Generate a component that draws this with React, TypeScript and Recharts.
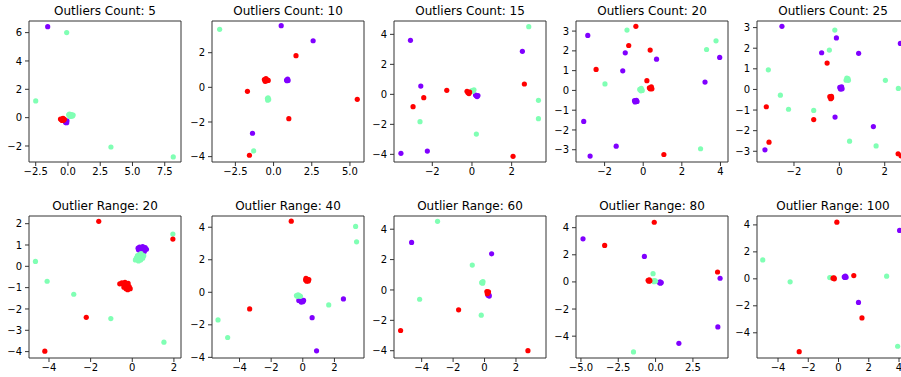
import React from 'react';
import { ScatterChart, Scatter, XAxis, YAxis, ReferenceArea } from 'recharts';

// [x, y, cluster]  cluster: 0 = purple, 1 = green, 2 = red
type Pt = [number, number, number];

const titles = [
  'Outliers Count: 5', 'Outliers Count: 10', 'Outliers Count: 15', 'Outliers Count: 20', 'Outliers Count: 25',
  'Outlier Range: 20', 'Outlier Range: 40', 'Outlier Range: 60', 'Outlier Range: 80', 'Outlier Range: 100',
];

const xDomains = [
  [-3.02, 8.76], [-4.03, 5.92], [-3.93, 3.73], [-3.48, 4.39], [-3.63, 3.07],
  [-4.96, 2.34], [-5.74, 3.87], [-5.76, 3.91], [-5.33, 4.85], [-5.39, 4.66],
];
const yDomains = [
  [-3.13, 6.82], [-4.31, 3.83], [-4.51, 4.89], [-3.62, 3.51], [-3.52, 3.32],
  [-4.3, 2.36], [-4.04, 4.69], [-4.48, 4.87], [-5.61, 4.86], [-5.87, 4.66],
];
const xTicks = [
  [-2.5, 0, 2.5, 5, 7.5], [-2.5, 0, 2.5, 5], [-2, 0, 2], [-2, 0, 2, 4], [-2, 0, 2],
  [-4, -2, 0, 2], [-4, -2, 0, 2], [-4, -2, 0, 2], [-5, -2.5, 0, 2.5], [-4, -2, 0, 2, 4],
];
const yTicks = [
  [-2, 0, 2, 4, 6], [-4, -2, 0, 2], [-4, -2, 0, 2, 4], [-3, -2, -1, 0, 1, 2, 3], [-3, -2, -1, 0, 1, 2, 3],
  [-4, -3, -2, -1, 0, 1, 2], [-4, -2, 0, 2, 4], [-4, -2, 0, 2, 4], [-4, -2, 0, 2, 4], [-4, -2, 0, 2, 4],
];

const count5: Pt[] = [
  [-0.58, -0.1, 2], [-0.5, -0.15, 2], [-0.42, -0.08, 2], [-0.35, -0.18, 2], [-0.28, -0.12, 2], [-0.45, -0.2, 2], [-0.38, -0.05, 2],
  [-0.22, -0.22, 0], [-0.12, -0.3, 0], [-0.08, -0.22, 0], [-0.18, -0.35, 0], [-0.1, -0.36, 0], [-0.2, -0.28, 0],
  [0.05, 0.2, 1], [0.12, 0.25, 1], [0.2, 0.15, 1], [0.28, 0.22, 1], [0.35, 0.12, 1], [0.25, 0.1, 1], [0.15, 0.08, 1], [0.4, 0.18, 1],
  [-1.57, 6.42, 0], [-0.1, 6.0, 1], [-2.5, 1.18, 1], [3.33, -2.07, 1], [8.16, -2.77, 1],
];

const count10: Pt[] = [
  [-0.6, 0.45, 2], [-0.5, 0.5, 2], [-0.45, 0.38, 2], [-0.55, 0.35, 2], [-0.4, 0.42, 2], [-0.35, 0.4, 2],
  [0.85, 0.42, 0], [0.92, 0.48, 0], [0.95, 0.4, 0], [0.88, 0.38, 0],
  [-0.4, -0.65, 1], [-0.32, -0.7, 1], [-0.36, -0.6, 1], [-0.38, -0.74, 1],
  [-3.53, 3.35, 1], [0.5, 3.56, 0], [2.59, 2.69, 0], [1.47, 1.83, 2], [-1.71, -0.23, 2],
  [5.48, -0.69, 2], [1.0, -1.81, 2], [-1.38, -2.65, 0], [-1.3, -3.67, 1], [-1.58, -3.92, 2],
];

const count15: Pt[] = [
  [-0.25, 0.2, 2], [-0.15, 0.05, 2], [-0.2, 0.1, 2], [-0.12, 0.15, 2],
  [0.0, 0.25, 1], [0.1, 0.3, 1], [0.05, 0.2, 1],
  [0.18, -0.05, 0], [0.26, -0.15, 0], [0.22, -0.1, 0], [0.3, -0.08, 0],
  [2.86, 4.51, 1], [-3.1, 3.6, 0], [2.54, 2.87, 0], [-2.58, 0.55, 0], [2.64, 0.69, 2],
  [-1.27, 0.27, 2], [-2.43, -0.22, 2], [-2.97, -0.82, 2], [-2.62, -1.82, 1], [0.22, -2.65, 1],
  [-3.58, -3.93, 0], [-2.25, -3.78, 0], [2.07, -4.13, 2], [3.35, -0.4, 1], [3.35, -1.62, 1],
];

const count20: Pt[] = [
  [-0.18, 0.05, 1], [-0.1, 0.1, 1], [-0.05, 0.0, 1], [-0.12, -0.02, 1],
  [0.32, 0.13, 2], [0.42, 0.18, 2], [0.45, 0.08, 2], [0.36, 0.08, 2],
  [-0.45, -0.52, 0], [-0.35, -0.5, 0], [-0.32, -0.56, 0], [-0.42, -0.58, 0],
  [-0.38, 3.24, 2], [-0.84, 3.05, 1], [-2.87, 2.78, 0], [-0.75, 2.27, 2], [0.36, 2.04, 2],
  [-0.93, 1.9, 0], [0.69, 1.58, 0], [3.77, 2.51, 1], [3.28, 2.07, 1], [3.96, 1.67, 0],
  [-2.44, 1.06, 2], [-1.06, 0.99, 0], [0.19, 0.49, 2], [-1.98, 0.33, 1], [3.2, 0.42, 0],
  [-3.08, -1.57, 0], [-1.4, -2.82, 0], [2.97, -2.95, 1], [-2.75, -3.32, 0], [1.07, -3.24, 2],
];

const count25: Pt[] = [
  [0.3, 0.45, 1], [0.38, 0.52, 1], [0.4, 0.44, 1], [0.33, 0.55, 1],
  [0.02, 0.1, 0], [0.1, 0.12, 0], [0.12, 0.03, 0], [0.05, 0.02, 0],
  [-0.42, -0.35, 2], [-0.34, -0.4, 2], [-0.38, -0.45, 2], [-0.35, -0.33, 2],
  [-2.53, 3.06, 0], [-0.2, 2.88, 1], [-0.13, 2.5, 0], [-0.44, 1.91, 1], [-0.78, 1.78, 0],
  [0.85, 1.75, 0], [2.69, 2.23, 0], [-0.54, 1.28, 2], [-3.13, 0.95, 1], [2.03, 0.44, 1],
  [2.6, 0.05, 1], [-2.6, -0.28, 1], [-3.22, -0.84, 2], [-2.24, -0.96, 1], [-1.13, -1.02, 1],
  [-1.13, -1.46, 2], [-0.19, -1.34, 0], [1.5, -1.8, 0], [0.45, -2.51, 1], [1.62, -2.74, 1],
  [-3.1, -2.56, 2], [-3.28, -2.93, 0], [2.59, -3.12, 2], [2.72, -3.22, 2],
];

const range20: Pt[] = [
  [0.28, 0.85, 0], [0.35, 0.9, 0], [0.42, 0.75, 0], [0.5, 0.92, 0], [0.55, 0.82, 0], [0.62, 0.88, 0],
  [0.68, 0.8, 0], [0.45, 0.68, 0], [0.38, 0.72, 0], [0.58, 0.7, 0], [0.48, 0.8, 0], [0.3, 0.78, 0],
  [0.15, 0.3, 1], [0.2, 0.4, 1], [0.25, 0.5, 1], [0.3, 0.35, 1], [0.35, 0.55, 1], [0.4, 0.3, 1],
  [0.45, 0.45, 1], [0.5, 0.38, 1], [0.55, 0.5, 1], [0.3, 0.25, 1], [0.42, 0.6, 1], [0.28, 0.45, 1],
  [-0.6, -0.82, 2], [-0.5, -0.78, 2], [-0.42, -0.85, 2], [-0.35, -0.75, 2], [-0.28, -0.9, 2], [-0.2, -0.8, 2],
  [-0.15, -0.95, 2], [-0.3, -1.05, 2], [-0.22, -1.1, 2], [-0.4, -0.98, 2], [-0.1, -1.05, 2], [-0.35, -0.88, 2],
  [-1.61, 2.11, 2], [1.95, 1.51, 1], [1.95, 1.28, 2], [-4.65, 0.23, 1], [-4.09, -0.7, 1],
  [-2.81, -1.31, 1], [-2.21, -2.39, 2], [-1.03, -2.45, 1], [1.52, -3.56, 1], [-4.2, -3.98, 2],
];

const range40: Pt[] = [
  [0.2, 0.85, 2], [0.3, 0.8, 2], [0.35, 0.7, 2], [0.25, 0.68, 2], [0.18, 0.75, 2], [0.38, 0.78, 2],
  [-0.4, -0.2, 1], [-0.3, -0.15, 1], [-0.2, -0.22, 1], [-0.15, -0.25, 1], [-0.35, -0.25, 1],
  [-0.25, -0.5, 0], [-0.15, -0.45, 0], [-0.05, -0.55, 0], [0.05, -0.5, 0], [-0.1, -0.6, 0], [0.0, -0.58, 0],
  [-0.73, 4.37, 2], [3.34, 4.05, 1], [3.4, 3.1, 1], [-3.36, -1.02, 2], [-5.36, -1.7, 1],
  [-4.75, -2.78, 1], [1.64, -0.78, 1], [2.57, -0.41, 0], [0.59, -1.56, 0], [0.87, -3.6, 0],
];

const range60: Pt[] = [
  [-0.15, 0.5, 1], [-0.1, 0.55, 1], [-0.12, 0.45, 1], [-0.18, 0.48, 1],
  [0.15, -0.1, 2], [0.22, -0.18, 2], [0.18, -0.25, 2], [0.25, -0.12, 2],
  [0.22, -0.35, 0], [0.3, -0.4, 0], [0.28, -0.32, 0],
  [-2.99, 4.52, 1], [-4.64, 3.13, 0], [0.45, 2.38, 0], [-0.78, 1.64, 1], [-4.13, -0.61, 1],
  [-1.65, -1.31, 2], [-0.21, -1.66, 1], [-5.34, -2.67, 2], [2.76, -4.0, 2],
];

const range80: Pt[] = [
  [-0.5, 0.12, 2], [-0.42, 0.15, 2], [-0.38, 0.08, 2], [-0.45, 0.05, 2],
  [-0.15, 0.07, 1], [-0.05, 0.1, 1], [0.0, 0.05, 1], [-0.1, 0.02, 1],
  [0.25, -0.05, 0], [0.32, -0.1, 0], [0.38, -0.05, 0], [0.3, 0.0, 0],
  [-0.09, 4.4, 2], [-4.86, 3.18, 0], [-3.41, 2.69, 2], [-0.75, 1.88, 0], [-0.17, 0.61, 1],
  [4.15, 0.73, 2], [4.32, 0.27, 0], [4.17, -3.32, 0], [1.56, -4.53, 0], [-1.48, -5.16, 1],
];

const range100: Pt[] = [
  [-0.58, 0.1, 1], [-0.5, 0.08, 1],
  [-0.36, 0.05, 2], [-0.28, 0.0, 2], [-0.3, 0.08, 2],
  [0.38, 0.15, 0], [0.45, 0.2, 0], [0.5, 0.12, 0], [0.42, 0.1, 0],
  [-0.11, 4.2, 2], [4.04, 3.59, 0], [-5.01, 1.4, 1], [-3.2, -0.22, 1], [1.01, 0.24, 2],
  [3.18, 0.2, 1], [1.32, -1.75, 0], [1.55, -2.9, 2], [3.91, -5.0, 1], [-2.6, -5.4, 2],
];

const panelPoints = [count5, count10, count15, count20, count25, range20, range40, range60, range80, range100];

const COLORS = ['#8000ff', '#80ffb4', '#ff0000'];
const COL_LEFT = [29, 212, 394, 576, 757];
const ROW_TOP = [21, 216];
const PLOT_H = [141, 142];
const PLOT_W = 152;
const Y_AXIS_W = 30;
const X_AXIS_H = 22;
const PAD = 2;
const FONT = 'DejaVu Sans, sans-serif';

const fmt = (decimals: number) => (v: number) =>
  (decimals ? v.toFixed(1) : String(v)).replace('-', '\u2212');

const dot = (color: string) => (props: any) =>
  <circle cx={props.cx} cy={props.cy} r={2.6} fill={color} />;

function Panel({ index }: { index: number }) {
  const row = Math.floor(index / 5);
  const col = index % 5;
  const left = COL_LEFT[col];
  const top = ROW_TOP[row];
  const ph = PLOT_H[row];
  const pts = panelPoints[index];
  const [x0, x1] = xDomains[index];
  const [y0, y1] = yDomains[index];
  const xDec = xTicks[index].some((t) => !Number.isInteger(t)) ? 1 : 0;
  const tickStyle = { fill: '#000', fontSize: 10, fontFamily: FONT };

  return (
    <>
      <div
        style={{
          position: 'absolute', left, top: top - 17, width: PLOT_W, textAlign: 'center',
          fontFamily: FONT, fontSize: 12, lineHeight: '14px', color: '#000', whiteSpace: 'nowrap',
        }}
      >
        {titles[index]}
      </div>
      <div style={{ position: 'absolute', left: left - Y_AXIS_W, top: top - PAD }}>
        <ScatterChart
          width={Y_AXIS_W + PLOT_W + PAD}
          height={PAD + ph + X_AXIS_H}
          margin={{ top: PAD, right: PAD, bottom: 0, left: 0 }}
        >
          <XAxis
            type="number" dataKey="x" domain={[x0, x1]} allowDataOverflow ticks={xTicks[index]}
            interval={0} tickFormatter={fmt(xDec)} height={X_AXIS_H} axisLine={false}
            tickSize={4} tickMargin={2} tick={tickStyle} tickLine={{ stroke: '#333' }}
          />
          <YAxis
            type="number" dataKey="y" domain={[y0, y1]} allowDataOverflow ticks={yTicks[index]}
            interval={0} tickFormatter={fmt(0)} width={Y_AXIS_W} axisLine={false}
            tickSize={4} tickMargin={3} tick={tickStyle} tickLine={{ stroke: '#333' }}
          />
          {COLORS.map((c, k) => (
            <Scatter
              key={k}
              data={pts.filter((p) => p[2] === k).map((p) => ({ x: p[0], y: p[1] }))}
              fill={c}
              shape={dot(c)}
              isAnimationActive={false}
            />
          ))}
          <ReferenceArea
            x1={x0} x2={x1} y1={y0} y2={y1}
            fill="none" stroke="#333" strokeWidth={1} ifOverflow="visible"
          />
        </ScatterChart>
      </div>
    </>
  );
}

export default function App() {
  return (
    <div
      style={{
        position: 'absolute', left: 0, top: 0, width: 901, height: 377,
        overflow: 'hidden', background: '#fff',
      }}
    >
      {titles.map((_, i) => <Panel key={i} index={i} />)}
    </div>
  );
}
